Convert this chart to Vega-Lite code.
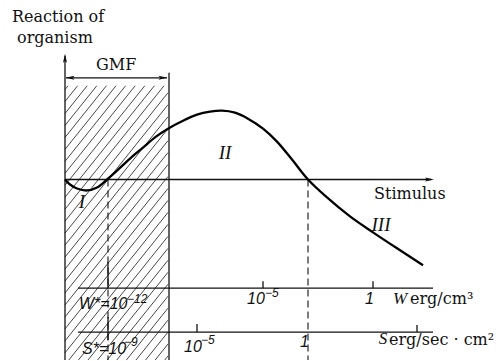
{
  "$schema": "https://vega.github.io/schema/vega-lite/v6.json",
  "width": 502,
  "height": 361,
  "padding": 0,
  "autosize": {"type": "fit", "contains": "padding"},
  "background": "white",
  "config": {"view": {"stroke": null}},
  "datasets": {
    "curve": [
      {"x": 65, "y": 180}, {"x": 70, "y": 185}, {"x": 77, "y": 189}, {"x": 87, "y": 191},
      {"x": 97, "y": 188}, {"x": 107, "y": 180}, {"x": 117, "y": 171}, {"x": 130, "y": 159},
      {"x": 143, "y": 148}, {"x": 156, "y": 137}, {"x": 168, "y": 129}, {"x": 183, "y": 121},
      {"x": 197, "y": 115}, {"x": 210, "y": 112}, {"x": 222, "y": 111}, {"x": 235, "y": 113},
      {"x": 248, "y": 119}, {"x": 263, "y": 129}, {"x": 277, "y": 142}, {"x": 292, "y": 160},
      {"x": 308, "y": 180}, {"x": 327, "y": 198}, {"x": 350, "y": 217}, {"x": 373, "y": 233},
      {"x": 397, "y": 249}, {"x": 423, "y": 266}
    ],
    "solid": [
      {"x": 65, "y": 361, "x2": 65, "y2": 56},
      {"x": 65, "y": 180, "x2": 431, "y2": 180},
      {"x": 66, "y": 78, "x2": 167, "y2": 78},
      {"x": 169, "y": 73, "x2": 169, "y2": 361},
      {"x": 78, "y": 289, "x2": 433, "y2": 289},
      {"x": 78, "y": 333, "x2": 433, "y2": 333},
      {"x": 108, "y": 263, "x2": 108, "y2": 289},
      {"x": 263, "y": 282, "x2": 263, "y2": 289},
      {"x": 373, "y": 282, "x2": 373, "y2": 289},
      {"x": 108, "y": 318, "x2": 108, "y2": 341},
      {"x": 197, "y": 325, "x2": 197, "y2": 333},
      {"x": 417, "y": 326, "x2": 417, "y2": 333}
    ],
    "dashed": [
      {"x": 108, "y": 180, "x2": 108, "y2": 361},
      {"x": 308, "y": 180, "x2": 308, "y2": 361}
    ],
    "hatch": [
      {"x": 68, "y": 86, "x2": 65, "y2": 89.8},
      {"x": 77.6, "y": 86, "x2": 65, "y2": 101.8},
      {"x": 87.2, "y": 86, "x2": 65, "y2": 113.8},
      {"x": 96.8, "y": 86, "x2": 65, "y2": 125.8},
      {"x": 106.4, "y": 86, "x2": 65, "y2": 137.8},
      {"x": 116, "y": 86, "x2": 65, "y2": 149.8},
      {"x": 125.6, "y": 86, "x2": 65, "y2": 161.8},
      {"x": 135.2, "y": 86, "x2": 65, "y2": 173.8},
      {"x": 144.8, "y": 86, "x2": 65, "y2": 185.8},
      {"x": 154.4, "y": 86, "x2": 65, "y2": 197.8},
      {"x": 164, "y": 86, "x2": 65, "y2": 209.8},
      {"x": 168, "y": 93, "x2": 65, "y2": 221.8},
      {"x": 168, "y": 105, "x2": 65, "y2": 233.8},
      {"x": 168, "y": 117, "x2": 65, "y2": 245.8},
      {"x": 168, "y": 129, "x2": 65, "y2": 257.8},
      {"x": 168, "y": 141, "x2": 65, "y2": 269.8},
      {"x": 168, "y": 153, "x2": 65, "y2": 281.8},
      {"x": 168, "y": 165, "x2": 65, "y2": 293.8},
      {"x": 168, "y": 177, "x2": 65, "y2": 305.8},
      {"x": 168, "y": 189, "x2": 65, "y2": 317.8},
      {"x": 168, "y": 201, "x2": 65, "y2": 329.8},
      {"x": 168, "y": 213, "x2": 65, "y2": 341.8},
      {"x": 168, "y": 225, "x2": 65, "y2": 353.8},
      {"x": 168, "y": 237, "x2": 68.8, "y2": 361},
      {"x": 168, "y": 249, "x2": 78.4, "y2": 361},
      {"x": 168, "y": 261, "x2": 88, "y2": 361},
      {"x": 168, "y": 273, "x2": 97.6, "y2": 361},
      {"x": 168, "y": 285, "x2": 107.2, "y2": 361},
      {"x": 168, "y": 297, "x2": 116.8, "y2": 361},
      {"x": 168, "y": 309, "x2": 126.4, "y2": 361},
      {"x": 168, "y": 321, "x2": 136, "y2": 361},
      {"x": 168, "y": 333, "x2": 145.6, "y2": 361},
      {"x": 168, "y": 345, "x2": 155.2, "y2": 361},
      {"x": 168, "y": 357, "x2": 164.8, "y2": 361}
    ],
    "arrows": [
      {"x": 65, "y": 58.5, "dir": "up"},
      {"x": 429.5, "y": 180, "dir": "right"},
      {"x": 70, "y": 78, "dir": "left"},
      {"x": 163, "y": 78, "dir": "right"}
    ],
    "serif": [
      {"x": 12, "y": 22, "t": "Reaction of"},
      {"x": 17, "y": 43, "t": "organism"},
      {"x": 96, "y": 70, "t": "GMF"},
      {"x": 374, "y": 200, "t": "Stimulus"},
      {"x": 410, "y": 305, "t": "erg/cm³"},
      {"x": 389, "y": 346, "t": "erg/sec · cm²"}
    ],
    "roman": [
      {"x": 82, "y": 203, "t": "I"},
      {"x": 225, "y": 153, "t": "II"},
      {"x": 381, "y": 226, "t": "III"}
    ],
    "vars": [
      {"x": 400, "y": 300, "t": "W"},
      {"x": 383, "y": 340, "t": "S"}
    ],
    "nums": [
      {"x": 79, "y": 310, "t": "W*=10"},
      {"x": 82, "y": 355, "t": "S*=10"},
      {"x": 247, "y": 305, "t": "10"},
      {"x": 184, "y": 353, "t": "10"},
      {"x": 365, "y": 305, "t": "1"},
      {"x": 300, "y": 348, "t": "1"}
    ],
    "exps": [
      {"x": 127, "y": 304, "t": "−12"},
      {"x": 124, "y": 347, "t": "−9"},
      {"x": 265, "y": 298, "t": "−5"},
      {"x": 201, "y": 345, "t": "−5"}
    ]
  },
  "encoding": {
    "x": {"field": "x", "type": "quantitative", "scale": {"domain": [0, 502], "nice": false, "zero": false}, "axis": null},
    "y": {"field": "y", "type": "quantitative", "scale": {"domain": [0, 361], "nice": false, "zero": false, "reverse": true}, "axis": null}
  },
  "layer": [
    {
      "data": {"name": "hatch"},
      "mark": {"type": "rule", "stroke": "#333333", "strokeWidth": 0.9},
      "encoding": {"x2": {"field": "x2"}, "y2": {"field": "y2"}}
    },
    {
      "data": {"name": "dashed"},
      "mark": {"type": "rule", "stroke": "#111111", "strokeWidth": 1.1, "strokeDash": [7, 4]},
      "encoding": {"x2": {"field": "x2"}, "y2": {"field": "y2"}}
    },
    {
      "data": {"name": "solid"},
      "mark": {"type": "rule", "stroke": "#111111", "strokeWidth": 1.3},
      "encoding": {"x2": {"field": "x2"}, "y2": {"field": "y2"}}
    },
    {
      "data": {"name": "curve"},
      "mark": {"type": "line", "stroke": "#000000", "strokeWidth": 2.3, "interpolate": "catmull-rom"},
      "encoding": {}
    },
    {
      "data": {"name": "arrows"},
      "mark": {"type": "point", "filled": true, "color": "#111111", "size": 81, "opacity": 1},
      "encoding": {
        "shape": {
          "field": "dir", "type": "nominal", "legend": null,
          "scale": {
            "domain": ["up", "right", "left"],
            "range": ["M0,-1L-0.45,1L0,0.6L0.45,1Z", "M1,0L-1,-0.45L-0.6,0L-1,0.45Z", "M-1,0L1,-0.45L0.6,0L1,0.45Z"]
          }
        }
      }
    },
    {
      "data": {"name": "serif"},
      "mark": {"type": "text", "font": "DejaVu Serif", "fontSize": 16, "align": "left", "baseline": "alphabetic", "color": "#111111"},
      "encoding": {"text": {"field": "t"}}
    },
    {
      "data": {"name": "roman"},
      "mark": {"type": "text", "font": "Liberation Serif", "fontStyle": "italic", "fontSize": 19, "align": "center", "baseline": "middle", "color": "#111111"},
      "encoding": {"text": {"field": "t"}}
    },
    {
      "data": {"name": "vars"},
      "mark": {"type": "text", "font": "Liberation Serif", "fontStyle": "italic", "fontSize": 17, "align": "center", "baseline": "middle", "color": "#111111"},
      "encoding": {"text": {"field": "t"}}
    },
    {
      "data": {"name": "nums"},
      "mark": {"type": "text", "font": "Liberation Sans", "fontStyle": "italic", "fontSize": 16, "align": "left", "baseline": "alphabetic", "color": "#111111"},
      "encoding": {"text": {"field": "t"}}
    },
    {
      "data": {"name": "exps"},
      "mark": {"type": "text", "font": "Liberation Sans", "fontStyle": "italic", "fontSize": 12, "align": "left", "baseline": "alphabetic", "color": "#111111"},
      "encoding": {"text": {"field": "t"}}
    }
  ]
}
